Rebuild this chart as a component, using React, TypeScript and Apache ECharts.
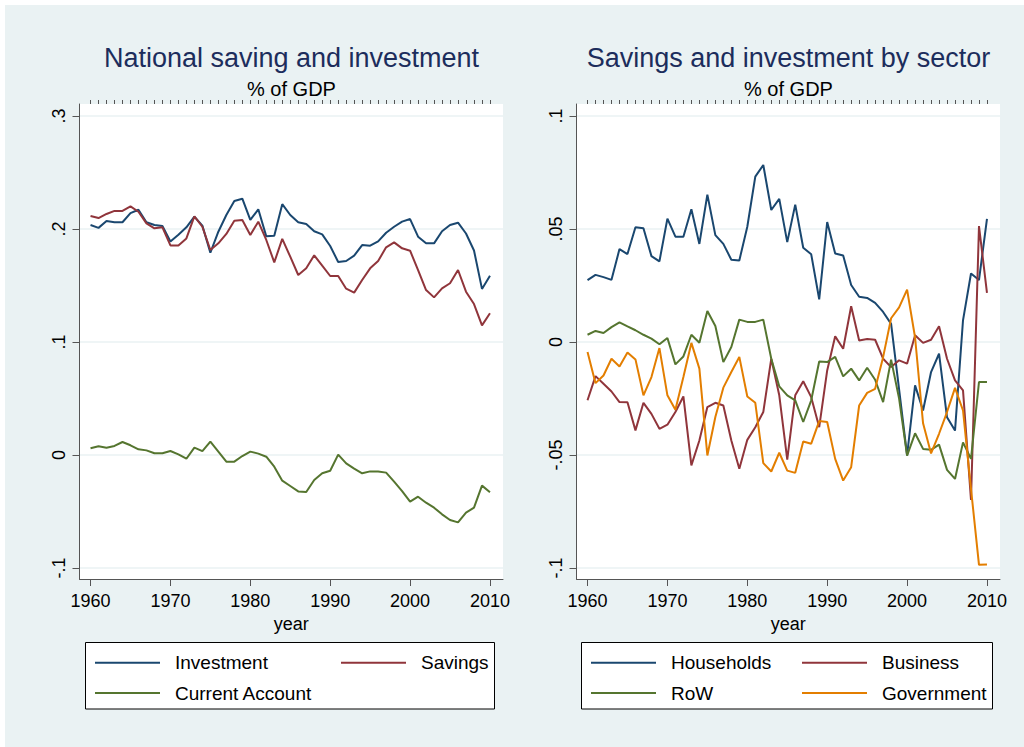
import React, { useEffect, useRef } from 'react';
import * as echarts from 'echarts';

const years = [
  1960, 1961, 1962, 1963, 1964, 1965, 1966, 1967, 1968, 1969,
  1970, 1971, 1972, 1973, 1974, 1975, 1976, 1977, 1978, 1979,
  1980, 1981, 1982, 1983, 1984, 1985, 1986, 1987, 1988, 1989,
  1990, 1991, 1992, 1993, 1994, 1995, 1996, 1997, 1998, 1999,
  2000, 2001, 2002, 2003, 2004, 2005, 2006, 2007, 2008, 2009,
  2010,
];
const majorYears = [1960, 1970, 1980, 1990, 2000, 2010];

const investment = [
  0.2035, 0.201, 0.207, 0.206, 0.206, 0.214, 0.217, 0.206, 0.2035, 0.2027,
  0.189, 0.195, 0.2015, 0.211, 0.203, 0.179, 0.1976, 0.2124, 0.2248, 0.2268,
  0.208, 0.2174, 0.1935, 0.194, 0.222, 0.2124, 0.206, 0.2044, 0.198, 0.1953,
  0.185, 0.1708, 0.1717, 0.1764, 0.1858, 0.1852, 0.189, 0.1967, 0.202, 0.2065,
  0.2088, 0.1932, 0.1873, 0.1873, 0.198, 0.2035, 0.2056, 0.196, 0.181, 0.147,
  0.1587,
];
const savings = [
  0.2115, 0.2097, 0.2133, 0.216, 0.216, 0.22, 0.2153, 0.205, 0.2006, 0.2015,
  0.1855, 0.1855, 0.1917, 0.2112, 0.202, 0.1814, 0.1873, 0.1956, 0.2074, 0.208,
  0.1947, 0.2065, 0.1903, 0.1705, 0.1912, 0.1755, 0.1593, 0.1652, 0.1767, 0.1675,
  0.1584, 0.1584, 0.1472, 0.1437, 0.1549, 0.1652, 0.1717, 0.1838, 0.1882, 0.1829,
  0.1808, 0.1637, 0.146, 0.1395, 0.1475, 0.152, 0.1637, 0.1445, 0.1336, 0.1147,
  0.1254,
];
const currentAccount = [
  0.0059, 0.0077, 0.0065, 0.008, 0.0115, 0.0086, 0.005, 0.0041, 0.0015, 0.0015,
  0.0035, 0.0006, -0.0033, 0.0065, 0.0035, 0.0118, 0.003, -0.0059, -0.0059, -0.0009,
  0.003, 0.0012, -0.0015, -0.0103, -0.0227, -0.0274, -0.0322, -0.0327, -0.0221, -0.0162,
  -0.0139, 0.0003, -0.0074, -0.0121, -0.0162, -0.0145, -0.0145, -0.0156, -0.0236, -0.0319,
  -0.0413, -0.0369, -0.0422, -0.0466, -0.0525, -0.0575, -0.0596, -0.051, -0.0466, -0.0271,
  -0.033,
];

const households = [
  0.0274, 0.0297, 0.0287, 0.0275, 0.0411, 0.0389, 0.0508, 0.0503, 0.038, 0.0357,
  0.0546, 0.0466, 0.0466, 0.0587, 0.0434, 0.0652, 0.0473, 0.0434, 0.0364, 0.0361,
  0.051, 0.0732, 0.0783, 0.0584, 0.0633, 0.0442, 0.0608, 0.0417, 0.0388, 0.0189,
  0.0531, 0.0392, 0.0383, 0.0252, 0.02, 0.0195, 0.0173, 0.0133, 0.008, -0.021,
  -0.0502, -0.0192, -0.0303, -0.0133, -0.0052, -0.0333, -0.0392, 0.0096, 0.0303, 0.0274,
  0.0545,
];
const business = [
  -0.0258, -0.0151, -0.0185, -0.0219, -0.0266, -0.0267, -0.0391, -0.0269, -0.0318, -0.0384,
  -0.0366, -0.031, -0.0241, -0.0546, -0.0436, -0.0288, -0.0269, -0.0281, -0.0436, -0.0561,
  -0.0433, -0.0377, -0.031, -0.0074, -0.0236, -0.052, -0.0236, -0.0174, -0.0244, -0.0377,
  -0.0126, 0.0025, -0.003, 0.0158, 0.0007, 0.0013, 0.001, -0.0074, -0.0111, -0.0081,
  -0.0096, 0.003, -0.0004, 0.001, 0.007, -0.0074, -0.017, -0.0214, -0.0699, 0.0513,
  0.0217,
];
const row = [
  0.0032, 0.0049, 0.004, 0.0066, 0.0087, 0.0069, 0.0052, 0.0032, 0.0015, -0.001,
  0.0018, -0.0099, -0.0064, 0.0032, -0.0003, 0.0137, 0.0071, -0.0089, -0.0022, 0.0099,
  0.0089, 0.0089, 0.0099, -0.0074, -0.0196, -0.0236, -0.0258, -0.0354, -0.0258, -0.0086,
  -0.0089, -0.0066, -0.0152, -0.0118, -0.017, -0.0114, -0.0167, -0.0266, -0.0078, -0.025,
  -0.0503, -0.0404, -0.0473, -0.0477, -0.0454, -0.0566, -0.0606, -0.0444, -0.0517, -0.0177,
  -0.0177,
];
const government = [
  -0.0044, -0.0182, -0.0148, -0.0074, -0.0108, -0.0046, -0.0077, -0.0236, -0.0155, -0.0027,
  -0.0236, -0.03, -0.0155, -0.0004, -0.0118, -0.0502, -0.0332, -0.0202, -0.0133, -0.0066,
  -0.0241, -0.0269, -0.0536, -0.0573, -0.049, -0.0569, -0.0579, -0.044, -0.045, -0.035,
  -0.0354, -0.0517, -0.0613, -0.0554, -0.0281, -0.0225, -0.0207, -0.0067, 0.0105, 0.0153,
  0.0232, 0.002, -0.036, -0.0493, -0.0406, -0.031, -0.0203, -0.0303, -0.065, -0.0986,
  -0.0985,
];

const leftYTicks = [-0.1, 0, 0.1, 0.2, 0.3];
const leftYLabels = ['-.1', '0', '.1', '.2', '.3'];
const rightYTicks = [-0.1, -0.05, 0, 0.05, 0.1];
const rightYLabels = ['-.1', '-.05', '0', '.05', '.1'];

const titles = ['National saving and investment', 'Savings and investment by sector'];
const subtitle = '% of GDP';
const xName = 'year';

const NAVY = '#1a476f';
const MAROON = '#90353b';
const GREEN = '#55752f';
const ORANGE = '#e37e00';

const FONT = '"Liberation Sans", Arial, Helvetica, sans-serif';
const AXIS = '#555555';
const BG = '#eaf2f3';

function pairs(vals: number[]) {
  return years.map((y, i) => [y, vals[i]]);
}

function labelFor(ticks: number[], labels: string[]) {
  return (v: number) => {
    for (let i = 0; i < ticks.length; i++) {
      if (Math.abs(ticks[i] - v) < 1e-6) return labels[i];
    }
    return '';
  };
}

export default function App() {
  const ref = useRef<HTMLDivElement>(null);
  useEffect(() => {
    const chart = echarts.init(ref.current!, null, { renderer: 'svg' });

    const gridTop = 104;
    const gridH = 475;
    const gridW = 423.5;
    const lefts = [79.5, 576.5];
    const xMin = 1958.62;
    const xMax = 2011.63;

    const majorX = (gi: number) => ({
      gridIndex: gi,
      type: 'value',
      min: xMin,
      max: xMax,
      axisLine: { show: true, onZero: false, lineStyle: { color: AXIS, width: 1 } },
      axisTick: { show: true, customValues: majorYears, length: 7, lineStyle: { color: AXIS, width: 1 } },
      axisLabel: {
        show: true,
        customValues: majorYears,
        margin: 13,
        fontSize: 18,
        color: '#000',
        fontFamily: FONT,
        formatter: (v: number) => String(Math.round(v)),
      },
      splitLine: { show: false },
      name: xName,
      nameLocation: 'middle',
      nameGap: 29,
      nameTextStyle: { fontSize: 18, color: '#000', fontFamily: FONT },
    });
    const minorX = (gi: number) => ({
      gridIndex: gi,
      type: 'value',
      min: xMin,
      max: xMax,
      axisLine: { show: false, onZero: false },
      axisTick: { show: true, customValues: years, length: 4, lineStyle: { color: AXIS, width: 1 } },
      axisLabel: { show: false },
      splitLine: { show: false },
    });
    const yAx = (gi: number, min: number, max: number, ticks: number[], labels: string[]) => ({
      gridIndex: gi,
      type: 'value',
      min,
      max,
      axisLine: { show: true, onZero: false, lineStyle: { color: AXIS, width: 1 } },
      axisTick: { show: true, customValues: ticks, length: 7, lineStyle: { color: AXIS, width: 1 } },
      axisLabel: {
        show: true,
        customValues: ticks,
        rotate: 90,
        margin: 12,
        fontSize: 18,
        color: '#000',
        fontFamily: FONT,
        formatter: labelFor(ticks, labels),
      },
      splitLine: { show: true, lineStyle: { color: BG, width: 1.5 } },
    });

    const mkSeries = (name: string, vals: number[], color: string, xi: number, yi: number) => ({
      name,
      type: 'line',
      xAxisIndex: xi,
      yAxisIndex: yi,
      data: pairs(vals),
      symbol: 'none',
      color,
      lineStyle: { color, width: 2 },
      itemStyle: { color },
      silent: true,
    });

    const legendItem = (name: string, left: number, top: number) => ({
      data: [name],
      left,
      top,
      padding: 0,
      icon: 'rect',
      itemWidth: 65,
      itemHeight: 2,
      selectedMode: false,
      textStyle: { fontSize: 19, color: '#000', fontFamily: FONT, lineHeight: 22, padding: [0, 0, 0, 10] },
    });

    const row1 = 651.7;
    const row2 = 682;

    chart.setOption({
      animation: false,
      backgroundColor: 'transparent',
      grid: lefts.map((l) => ({
        left: l,
        top: gridTop,
        width: gridW,
        height: gridH,
        show: true,
        backgroundColor: '#ffffff',
        borderWidth: 0,
        containLabel: false,
      })),
      xAxis: [majorX(0), minorX(0), majorX(1), minorX(1)],
      yAxis: [
        yAx(0, -0.10973, 0.31062, leftYTicks, leftYLabels),
        yAx(1, -0.10487, 0.10531, rightYTicks, rightYLabels),
      ],
      legend: [
        legendItem('Investment', 95, row1),
        legendItem('Savings', 341, row1),
        legendItem('Current Account', 95, row2),
        legendItem('Households', 591, row1),
        legendItem('Business', 802, row1),
        legendItem('RoW', 591, row2),
        legendItem('Government', 802, row2),
      ],
      graphic: [
        { type: 'rect', z: -100, silent: true, shape: { x: 5, y: 5, width: 1019, height: 742 }, style: { fill: BG } },
        { type: 'rect', z: 1, silent: true, shape: { x: 85.5, y: 642.5, width: 409, height: 66.5 }, style: { fill: '#fff', stroke: '#000', lineWidth: 1 } },
        { type: 'rect', z: 1, silent: true, shape: { x: 581.5, y: 642.5, width: 411, height: 66.5 }, style: { fill: '#fff', stroke: '#000', lineWidth: 1 } },
        { type: 'text', silent: true, style: { text: titles[0], x: 291.5, y: 57.5, textAlign: 'center', textVerticalAlign: 'middle', fontSize: 27, fontFamily: FONT, fill: '#1c2d5c' } },
        { type: 'text', silent: true, style: { text: subtitle, x: 291.5, y: 88.5, textAlign: 'center', textVerticalAlign: 'middle', fontSize: 20, fontFamily: FONT, fill: '#000' } },
        { type: 'text', silent: true, style: { text: titles[1], x: 788.5, y: 57.5, textAlign: 'center', textVerticalAlign: 'middle', fontSize: 27, fontFamily: FONT, fill: '#1c2d5c' } },
        { type: 'text', silent: true, style: { text: subtitle, x: 788.5, y: 88.5, textAlign: 'center', textVerticalAlign: 'middle', fontSize: 20, fontFamily: FONT, fill: '#000' } },
      ],
      series: [
        mkSeries('Investment', investment, NAVY, 0, 0),
        mkSeries('Savings', savings, MAROON, 0, 0),
        mkSeries('Current Account', currentAccount, GREEN, 0, 0),
        mkSeries('Households', households, NAVY, 2, 1),
        mkSeries('Business', business, MAROON, 2, 1),
        mkSeries('RoW', row, GREEN, 2, 1),
        mkSeries('Government', government, ORANGE, 2, 1),
      ],
    });
    return () => chart.dispose();
  }, []);
  return (
    <div
      ref={ref}
      style={{ position: 'absolute', left: 0, top: 0, width: 1024, height: 747, background: '#fff' }}
    />
  );
}
